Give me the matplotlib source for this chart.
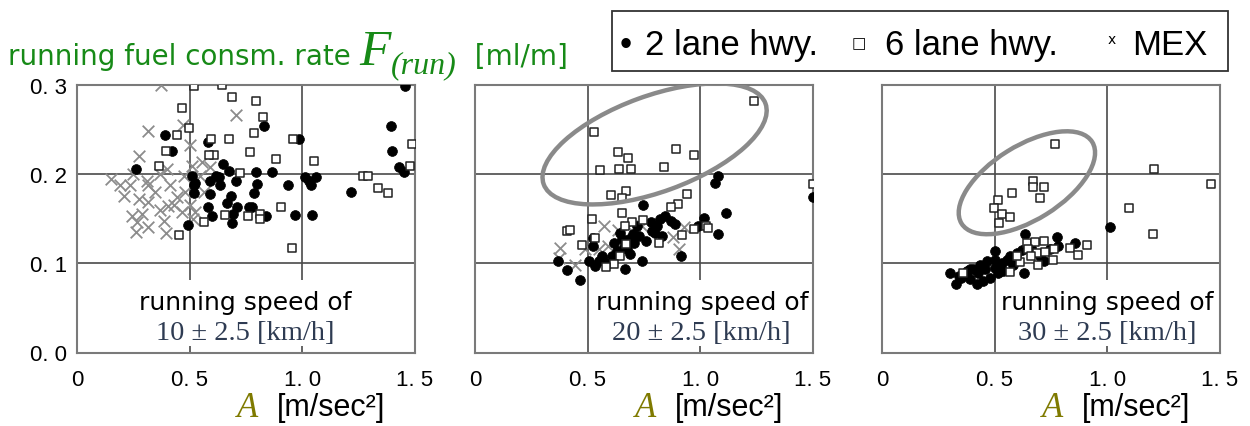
import matplotlib
matplotlib.use("Agg")
import matplotlib.pyplot as plt
from matplotlib import transforms, font_manager
from matplotlib.patches import Ellipse, Rectangle

# ---------------- data ----------------
# running speed classes (km/h)
speed_labels = ["10", "20", "30"]

# 10 km/h class
two_lane_10_A = [1.456, 1.394, 1.400, 1.427, 1.453, 1.216, 1.045, 0.967, 1.010, 1.030, 1.060, 1.040,
                 0.984, 0.831, 0.864, 0.938, 0.793, 0.800, 0.787, 0.775, 0.839, 0.646, 0.676, 0.634,
                 0.683, 0.664, 0.708, 0.693, 0.686, 0.597, 0.580, 0.590, 0.520, 0.520, 0.580, 0.390,
                 0.422, 0.260, 0.493, 0.615, 0.707, 0.524, 0.510, 0.628, 0.591, 0.765]
two_lane_10_F = [0.298, 0.254, 0.226, 0.2075, 0.2026, 0.1795, 0.154, 0.154, 0.197, 0.192, 0.197, 0.188,
                 0.239, 0.253, 0.2026, 0.187, 0.202, 0.189, 0.178, 0.163, 0.153, 0.211, 0.203, 0.187,
                 0.175, 0.167, 0.163, 0.155, 0.145, 0.153, 0.163, 0.1925, 0.187, 0.178, 0.2355, 0.244,
                 0.2254, 0.205, 0.143, 0.198, 0.1925, 0.190, 0.198, 0.196, 0.1776, 0.163]
six_lane_10_A = [0.520, 0.644, 0.689, 0.793, 0.467, 0.827, 0.787, 0.496, 0.442, 0.593, 0.676, 0.957,
                 0.397, 0.768, 0.608, 0.588, 0.883, 1.052, 1.486, 1.479, 0.723, 1.268, 1.290, 1.338,
                 1.379, 0.905, 0.757, 0.812, 0.812, 0.656, 0.953, 0.452, 0.564, 0.364]
six_lane_10_F = [0.298, 0.2997, 0.286, 0.281, 0.274, 0.2635, 0.246, 0.2515, 0.244, 0.239, 0.239, 0.239,
                 0.226, 0.225, 0.221, 0.221, 0.2168, 0.214, 0.2336, 0.209, 0.2008, 0.1974, 0.1974, 0.1843,
                 0.178, 0.1634, 0.1533, 0.155, 0.149, 0.154, 0.117, 0.132, 0.146, 0.2086]
mex_10_A = [0.373, 0.707, 0.317, 0.470, 0.502, 0.273, 0.151, 0.191, 0.236, 0.310, 0.369, 0.399,
            0.473, 0.510, 0.554, 0.591, 0.210, 0.273, 0.317, 0.413, 0.480, 0.562, 0.243, 0.288,
            0.369, 0.406, 0.465, 0.524, 0.265, 0.317, 0.384, 0.262, 0.396, 0.517, 0.347, 0.443,
            0.317, 0.547, 0.500, 0.430, 0.250]
mex_10_F = [0.299, 0.266, 0.248, 0.255, 0.2325, 0.2205, 0.194, 0.187, 0.1877, 0.1925, 0.200, 0.2056,
            0.198, 0.2086, 0.213, 0.2075, 0.1757, 0.172, 0.1683, 0.187, 0.1795, 0.1795, 0.1533, 0.155,
            0.159, 0.1645, 0.157, 0.157, 0.146, 0.1403, 0.1477, 0.1346, 0.134, 0.149, 0.1795, 0.174,
            0.187, 0.198, 0.165, 0.165, 0.200]

# 20 km/h class
two_lane_20_A = [1.080, 1.064, 1.498, 1.115, 1.079, 1.016, 0.991, 0.746, 0.779, 0.820, 0.843, 0.809,
                 0.786, 0.912, 0.665, 0.739, 0.568, 0.585, 0.522, 0.522, 0.507, 0.408, 0.464, 0.368,
                 0.616, 0.631, 0.608, 0.653, 0.682, 0.705, 0.727, 0.757, 0.717, 0.675, 0.549, 0.563,
                 0.534, 0.645, 0.801, 0.868, 0.886, 0.831, 0.690, 0.660, 0.700]
two_lane_20_F = [0.1974, 0.190, 0.1744, 0.1564, 0.1329, 0.1509, 0.1415, 0.165, 0.146, 0.149, 0.1533, 0.1415,
                 0.1358, 0.1078, 0.0937, 0.1019, 0.1041, 0.0995, 0.1284, 0.1195, 0.1022, 0.092, 0.0806, 0.1022,
                 0.1228, 0.1135, 0.1078, 0.1265, 0.1265, 0.1228, 0.1303, 0.1246, 0.1415, 0.1153, 0.1022, 0.1078,
                 0.0965, 0.134, 0.134, 0.1474, 0.1433, 0.1303, 0.110, 0.118, 0.133]
six_lane_20_A = [1.236, 0.527, 0.635, 0.679, 0.890, 0.972, 0.553, 0.638, 0.694, 0.838, 1.498, 0.604,
                 0.672, 0.653, 0.939, 0.902, 0.872, 0.653, 0.519, 0.408, 0.423, 0.697, 0.665, 1.024,
                 1.034, 0.816, 0.531, 0.668, 0.645, 0.616, 0.583, 0.971, 0.475, 0.920, 0.745]
six_lane_20_F = [0.281, 0.2467, 0.2247, 0.218, 0.2273, 0.2206, 0.2038, 0.2057, 0.2057, 0.2075, 0.189, 0.176,
                 0.181, 0.1724, 0.1769, 0.1657, 0.1627, 0.1564, 0.149, 0.1358, 0.137, 0.146, 0.1415, 0.1415,
                 0.139, 0.1228, 0.1284, 0.121, 0.1075, 0.0993, 0.0957, 0.1377, 0.120, 0.131, 0.148]
mex_20_A = [0.571, 0.635, 0.742, 0.927, 0.878, 0.905, 0.378, 0.490, 0.549, 0.589, 0.445, 0.371, 0.680]
mex_20_F = [0.1414, 0.1366, 0.1414, 0.1403, 0.1296, 0.1153, 0.1172, 0.1153, 0.1153, 0.119, 0.0974, 0.106, 0.140]

# 30 km/h class
two_lane_30_A = [1.013, 0.635, 0.776, 0.858, 0.783, 0.746, 0.717, 0.702, 0.628, 0.502, 0.301, 0.328,
                 0.342, 0.375, 0.390, 0.420, 0.449, 0.405, 0.435, 0.465, 0.479, 0.516, 0.531, 0.554,
                 0.568, 0.598, 0.539, 0.502, 0.456, 0.427, 0.390, 0.580, 0.620, 0.660, 0.500, 0.350]
two_lane_30_F = [0.1408, 0.1321, 0.1297, 0.1228, 0.1195, 0.1153, 0.1022, 0.1078, 0.0892, 0.1135, 0.0892, 0.077,
                 0.0854, 0.091, 0.0818, 0.077, 0.0795, 0.0935, 0.0985, 0.1022, 0.0838, 0.0892, 0.1004, 0.1041,
                 0.1078, 0.1116, 0.091, 0.1041, 0.093, 0.0892, 0.0933, 0.098, 0.115, 0.117, 0.095, 0.083]
six_lane_30_A = [0.768, 1.206, 1.458, 1.095, 1.202, 0.669, 0.672, 0.717, 0.576, 0.699, 0.514, 0.497,
                 0.531, 0.568, 0.519, 0.642, 0.680, 0.717, 0.647, 0.687, 0.724, 0.764, 0.758, 0.692,
                 0.835, 0.870, 0.910, 0.613, 0.568, 0.360, 0.601, 0.660]
six_lane_30_F = [0.2329, 0.2057, 0.1882, 0.1613, 0.1329, 0.1918, 0.1851, 0.1851, 0.1788, 0.1724, 0.1705, 0.162,
                 0.1553, 0.1516, 0.1445, 0.1228, 0.124, 0.1246, 0.1153, 0.1116, 0.1123, 0.1161, 0.1041, 0.0977,
                 0.1172, 0.109, 0.1198, 0.1011, 0.0897, 0.0892, 0.108, 0.108]
mex_30_A = [0.487]
mex_30_F = [0.0948]

# highlighted 6-lane groups: centre (A, F), width/height in inches, tilt in degrees
ellipse_20 = dict(center=(0.797, 0.2335), width=2.36, height=0.96, angle=20)
ellipse_30 = dict(center=(0.643, 0.190), width=1.54, height=0.74, angle=32)

x_ticks = [0, 0.5, 1.0, 1.5]
x_tick_labels = ["0", "0. 5", "1. 0", "1. 5"]
y_ticks = [0.0, 0.1, 0.2, 0.3]
y_tick_labels = ["0. 0", "0. 1", "0. 2", "0. 3"]

panels = [
    (two_lane_10_A, two_lane_10_F, six_lane_10_A, six_lane_10_F, mex_10_A, mex_10_F, None),
    (two_lane_20_A, two_lane_20_F, six_lane_20_A, six_lane_20_F, mex_20_A, mex_20_F, ellipse_20),
    (two_lane_30_A, two_lane_30_F, six_lane_30_A, six_lane_30_F, mex_30_A, mex_30_F, ellipse_30),
]

# ---------------- fonts ----------------
_available = {f.name for f in font_manager.fontManager.ttflist}
NARROW = "Liberation Sans Narrow" if "Liberation Sans Narrow" in _available else "Liberation Sans"
SANS = "DejaVu Sans"
SERIF = "Liberation Serif" if "Liberation Serif" in _available else "DejaVu Serif"

GREEN = "#178a17"
OLIVE = "#7f7a00"
SPEED_BLUE = "#2e3b52"

W, H = 1250, 427
fig = plt.figure(figsize=(W / 100, H / 100), dpi=100)
fig.patch.set_facecolor("white")

def fx(px):
    return px / W

def fy(py):
    return (H - py) / H

axes_left_px = [77, 475, 882]
axes_w_px = 338
axes_top_px, axes_bottom_px = 85.5, 353.5
box_x = [(0.14, 0.86), (0.35, 0.995), (0.35, 0.995)]
text_x = [0.497, 0.671, 0.665]

axes = []
for i, (tA, tF, sA, sF, mA, mF, ell) in enumerate(panels):
    ax = fig.add_axes([fx(axes_left_px[i]), fy(axes_bottom_px),
                       axes_w_px / W, (axes_bottom_px - axes_top_px) / H])
    axes.append(ax)
    ax.set_xlim(0, 1.5)
    ax.set_ylim(0, 0.3)
    for s in ax.spines.values():
        s.set_color("#7a7a7a")
        s.set_linewidth(1.5)
    for gx in (0.5, 1.0):
        ax.axvline(gx, color="#4a4a4a", lw=1.2, zorder=1)
    for gy in (0.1, 0.2):
        ax.axhline(gy, color="#4a4a4a", lw=1.2, zorder=1)

    ax.scatter(mA, mF, marker="x", s=70, color="#8c8c8c", linewidths=1.3, zorder=3)
    ax.scatter(tA, tF, marker="o", s=50, color="black", edgecolors="black", linewidths=0.5, zorder=4)
    ax.scatter(sA, sF, marker="s", s=40, facecolors="white", edgecolors="#222222", linewidths=1.1, zorder=5)

    if ell is not None:
        cx, cy = ell["center"]
        e = Ellipse((0, 0), ell["width"], ell["height"], angle=ell["angle"],
                    fill=False, edgecolor="#8a8a8a", linewidth=3.2, zorder=6,
                    transform=fig.dpi_scale_trans + transforms.ScaledTranslation(cx, cy, ax.transData))
        ax.add_patch(e)

    # caption block for the speed class
    x0, x1 = box_x[i]
    ax.add_patch(Rectangle((x0, 0.025), x1 - x0, 0.245, transform=ax.transAxes,
                           facecolor="white", edgecolor="none", zorder=7))
    ax.text(text_x[i], 0.188, "running speed of", transform=ax.transAxes, ha="center", va="center",
            fontsize=18, family=SANS, color="black", zorder=8)
    ax.text(text_x[i], 0.073, f"{speed_labels[i]} \u00b1 2.5 [km/h]", transform=ax.transAxes,
            ha="center", va="center", fontsize=20.5, family=SERIF, color=SPEED_BLUE, zorder=8)

    ax.set_xticks(x_ticks)
    ax.set_xticklabels(x_tick_labels, family=NARROW, fontsize=16)
    ax.tick_params(axis="x", length=0, pad=12)
    ax.set_yticks(y_ticks)
    if i == 0:
        ax.set_yticklabels(y_tick_labels, family=NARROW, fontsize=16)
        ax.tick_params(axis="y", length=0, pad=7)
    else:
        ax.set_yticklabels([])
        ax.tick_params(axis="y", length=0)

    # axis label: A [m/sec^2]
    ax.text(0.473, -0.205, "A", transform=ax.transAxes, ha="left", va="center",
            fontsize=25, family=SERIF, style="italic", color=OLIVE)
    ax.text(0.592, -0.205, "[m/sec\u00b2]", transform=ax.transAxes, ha="left", va="center",
            fontsize=22, family=NARROW, color="black")

# ---------------- title (left) and legend (right) ----------------
fig.canvas.draw()
renderer = fig.canvas.get_renderer()

def run_of_text(pieces, x_px, base_px):
    x = x_px
    for txt, dy, kw in pieces:
        t = fig.text(fx(x), fy(base_px + dy), txt, ha="left", va="baseline", **kw)
        x += t.get_window_extent(renderer=renderer).width
    return x

run_of_text([
    ("running fuel consm. rate ", 0, dict(fontsize=20, family=SANS, color=GREEN)),
    ("F", 0, dict(fontsize=37, family=SERIF, style="italic", color=GREEN)),
    ("(run)", 8, dict(fontsize=23, family=SERIF, style="italic", color=GREEN)),
    ("  [ml/m]", 0, dict(fontsize=20, family=SANS, color=GREEN)),
], 8, 65)

fig.patches.append(Rectangle((fx(612), fy(72)), fx(1228) - fx(612), fy(12) - fy(72),
                             transform=fig.transFigure, facecolor="white",
                             edgecolor="#333333", linewidth=1.3))
legend_kw = dict(fontsize=25, family=NARROW, color="black")
fig.text(fx(620), fy(55), "\u2022", ha="left", va="baseline", **legend_kw)
fig.text(fx(645), fy(55), "2 lane hwy.", ha="left", va="baseline", **legend_kw)
fig.text(fx(852), fy(48), "\u25a1", ha="left", va="baseline", fontsize=11, family=SANS, color="black")
fig.text(fx(885), fy(55), "6 lane hwy.", ha="left", va="baseline", **legend_kw)
fig.text(fx(1108), fy(44), "x", ha="left", va="baseline", fontsize=10, family=SANS, color="black")
fig.text(fx(1132), fy(55), "MEX", ha="left", va="baseline", **legend_kw)

fig.savefig("out.png", dpi=100)
